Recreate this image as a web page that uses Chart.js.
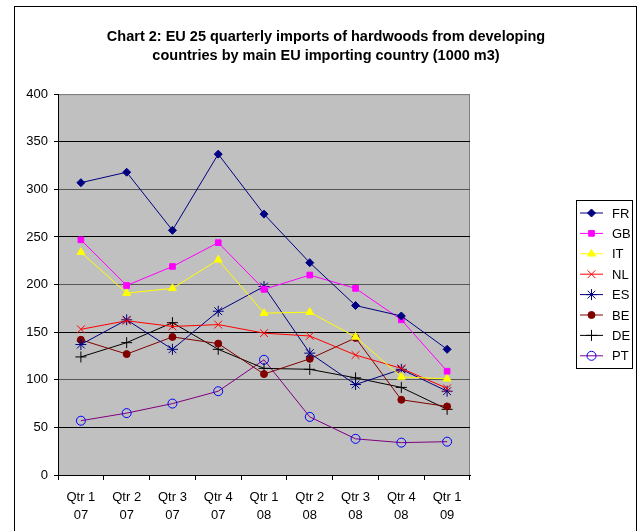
<!DOCTYPE html>
<html>
<head>
<meta charset="utf-8">
<script src="https://cdn.jsdelivr.net/npm/chart.js@4/dist/chart.umd.min.js"></script>
<style>
    html, body { margin: 0; padding: 0; background: #fff; }
    #wrap { width: 638px; height: 531px; }
</style>
</head>
<body>
<div id="wrap"><canvas id="chart" width="638" height="531"></canvas></div>
<script>
// Data (1000 m3)
const quarters = [['Qtr 1', '07'], ['Qtr 2', '07'], ['Qtr 3', '07'], ['Qtr 4', '07'],
                  ['Qtr 1', '08'], ['Qtr 2', '08'], ['Qtr 3', '08'], ['Qtr 4', '08'], ['Qtr 1', '09']];
const FR = [307, 318, 257, 337, 274, 223, 178, 167, 132];
const GB = [247, 199, 219, 244, 195, 210, 196, 163, 109];
const IT = [234, 191, 196, 226, 170, 171, 145, 103, 101];
const NL = [153, 162, 156, 158, 149, 146, 126, 112, 91];
const ES = [137, 163, 132, 172, 198, 128, 95, 111, 88];
const BE = [142, 127, 145, 138, 106, 122, 144, 79, 72];
const DE = [124, 139, 160, 132, 112, 111, 102, 92, 69];
const PT = [57, 65, 75, 88, 121, 61, 38, 34, 35];
const yTicks = [0, 50, 100, 150, 200, 250, 300, 350, 400];

const FONT = "'Liberation Sans', Arial, sans-serif";

function series(label, data, line, marker, style, radius, fill) {
    return {
        label: label,
        data: data,
        borderColor: line,
        borderWidth: 1,
        backgroundColor: line,
        pointStyle: style,
        pointRadius: radius,
        pointHoverRadius: radius,
        pointBorderColor: marker,
        pointBackgroundColor: fill === false ? 'rgba(0,0,0,0)' : marker,
        pointBorderWidth: 1,
        tension: 0,
        fill: false
    };
}

// grey plot background + outer frame
const frame = {
    id: 'frame',
    beforeDraw(chart) {
        const { ctx, chartArea: a } = chart;
        ctx.save();
        ctx.fillStyle = '#c0c0c0';
        ctx.fillRect(a.left, a.top, a.right - a.left, a.bottom - a.top);
        ctx.strokeStyle = '#808080';
        ctx.lineWidth = 1;
        ctx.strokeRect(a.left + 0.5, a.top + 0.5, a.right - a.left - 1, a.bottom - a.top);
        ctx.strokeStyle = '#000';
        ctx.strokeRect(14.5, 6.5, 622, 560);
        ctx.restore();
    }
};

// legend box in the Excel style, drawn from the datasets
const boxLegend = {
    id: 'boxLegend',
    afterDraw(chart) {
        const ctx = chart.ctx;
        const sets = chart.data.datasets;
        const x0 = 576.5, y0 = 200.5, w = 56, h = 168;
        ctx.save();
        ctx.fillStyle = '#fff';
        ctx.fillRect(x0, y0, w, h);
        ctx.strokeStyle = '#000';
        ctx.lineWidth = 1;
        ctx.strokeRect(x0, y0, w, h);
        sets.forEach((ds, i) => {
            const y = 213 + i * 20.4;
            ctx.strokeStyle = ds.borderColor;
            ctx.lineWidth = 1;
            ctx.beginPath();
            ctx.moveTo(580, y);
            ctx.lineTo(603, y);
            ctx.stroke();
            ctx.strokeStyle = ds.pointBorderColor;
            ctx.fillStyle = ds.pointBackgroundColor;
            ctx.lineWidth = ds.pointBorderWidth;
            Chart.helpers.drawPoint(ctx, {
                pointStyle: ds.pointStyle,
                radius: ds.pointRadius,
                rotation: 0,
                borderWidth: ds.pointBorderWidth
            }, 591.5, y);
            ctx.fillStyle = '#000';
            ctx.font = '13px ' + FONT;
            ctx.textBaseline = 'middle';
            ctx.textAlign = 'left';
            ctx.fillText(ds.label, 612, y + 1);
        });
        ctx.restore();
    }
};

const ctx = document.getElementById('chart').getContext('2d');
new Chart(ctx, {
    type: 'line',
    data: {
        labels: quarters,
        datasets: [
            series('FR', FR, '#000080', '#000080', 'rectRot', 4),
            series('GB', GB, '#ff00ff', '#ff00ff', 'rect', 4),
            series('IT', IT, '#ffff00', '#ffff00', 'triangle', 4.5),
            series('NL', NL, '#ff0000', '#ff0000', 'crossRot', 5.5),
            series('ES', ES, '#000080', '#000080', 'star', 5.5),
            series('BE', BE, '#800000', '#800000', 'circle', 3.5),
            series('DE', DE, '#000000', '#000000', 'cross', 5.5),
            series('PT', PT, '#800080', '#0000ff', 'circle', 4.5, false)
        ]
    },
    options: {
        responsive: false,
        animation: false,
        layout: { padding: { left: 14, right: 0, top: 0, bottom: 0 } },
        plugins: {
            legend: { display: false },
            tooltip: { enabled: false },
            title: {
                display: true,
                text: ['Chart 2: EU 25 quarterly imports of hardwoods from developing',
                       'countries by main EU importing country (1000 m3)'],
                color: '#000',
                font: { family: FONT, size: 14.5, weight: 'bold', lineHeight: 1.35 },
                padding: { top: 27, bottom: 28 }
            }
        },
        scales: {
            x: {
                offset: true,
                grid: { offset: true, drawOnChartArea: false, tickLength: 5, tickColor: '#000' },
                border: { color: '#000', width: 1 },
                ticks: {
                    color: '#000',
                    font: { family: FONT, size: 13, lineHeight: 1.35 },
                    padding: 9,
                    maxRotation: 0,
                    autoSkip: false
                },
                afterFit(scale) { scale.height = 56; }
            },
            y: {
                min: 0,
                max: 400,
                afterBuildTicks(scale) { scale.ticks = yTicks.map(v => ({ value: v })); },
                grid: {
                    color(c) {
                        const v = c.tick ? c.tick.value : 0;
                        if (v === 400) return '#808080';
                        return (v / 50) % 2 === 1 ? '#000' : '#555';
                    },
                    tickColor: '#000',
                    tickLength: 4
                },
                border: { color: '#000', width: 1 },
                ticks: {
                    color: '#000',
                    font: { family: FONT, size: 13 },
                    padding: 6
                },
                afterFit(scale) { scale.width = 44; }
            },
            pad: {
                type: 'linear',
                position: 'right',
                display: true,
                grid: { display: false },
                border: { display: false },
                ticks: { display: false },
                afterFit(scale) { scale.width = 168; }
            }
        }
    },
    plugins: [frame, boxLegend]
});
</script>
</body>
</html>
